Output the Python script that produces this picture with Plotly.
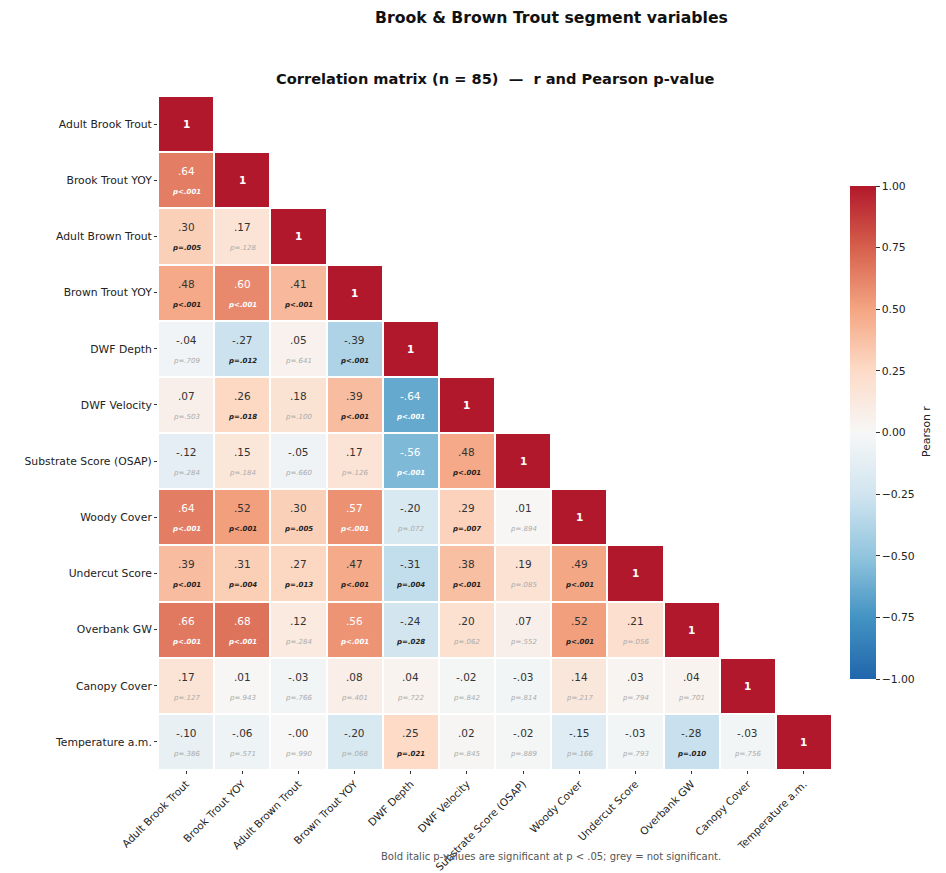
import plotly.graph_objects as go

labels = ["Adult Brook Trout", "Brook Trout YOY", "Adult Brown Trout", "Brown Trout YOY",
          "DWF Depth", "DWF Velocity", "Substrate Score (OSAP)", "Woody Cover",
          "Undercut Score", "Overbank GW", "Canopy Cover", "Temperature a.m."]

# lower-triangle correlations (row i, columns 0..i-1)
r_rows = [
    [],
    [0.64],
    [0.30, 0.17],
    [0.48, 0.60, 0.41],
    [-0.04, -0.27, 0.05, -0.39],
    [0.07, 0.26, 0.18, 0.39, -0.64],
    [-0.12, 0.15, -0.05, 0.17, -0.56, 0.48],
    [0.64, 0.52, 0.30, 0.57, -0.20, 0.29, 0.01],
    [0.39, 0.31, 0.27, 0.47, -0.31, 0.38, 0.19, 0.49],
    [0.66, 0.68, 0.12, 0.56, -0.24, 0.20, 0.07, 0.52, 0.21],
    [0.17, 0.01, -0.03, 0.08, 0.04, -0.02, -0.03, 0.14, 0.03, 0.04],
    [-0.10, -0.06, -0.001, -0.20, 0.25, 0.02, -0.02, -0.15, -0.03, -0.28, -0.03],
]

# Pearson p-values (0.0001 stands for p<.001)
p_rows = [
    [],
    [0.0001],
    [0.005, 0.128],
    [0.0001, 0.0001, 0.0001],
    [0.709, 0.012, 0.641, 0.0001],
    [0.503, 0.018, 0.100, 0.0001, 0.0001],
    [0.284, 0.184, 0.660, 0.126, 0.0001, 0.0001],
    [0.0001, 0.0001, 0.005, 0.0001, 0.072, 0.007, 0.894],
    [0.0001, 0.004, 0.013, 0.0001, 0.004, 0.0001, 0.085, 0.0001],
    [0.0001, 0.0001, 0.284, 0.0001, 0.028, 0.062, 0.552, 0.0001, 0.056],
    [0.127, 0.943, 0.766, 0.401, 0.722, 0.842, 0.814, 0.217, 0.794, 0.701],
    [0.386, 0.571, 0.990, 0.068, 0.021, 0.845, 0.889, 0.166, 0.793, 0.010, 0.756],
]

colorbar_ticks = [-1.0, -0.75, -0.5, -0.25, 0.0, 0.25, 0.5, 0.75, 1.0]

n = len(labels)
z = [[None] * n for _ in range(n)]
for i in range(n):
    for j, v in enumerate(r_rows[i]):
        z[i][j] = v
    z[i][i] = 1.0

rdbu = [
    [0.0, "rgb(33,102,172)"], [0.125, "rgb(67,147,195)"], [0.25, "rgb(146,197,222)"],
    [0.375, "rgb(209,229,240)"], [0.5, "rgb(247,247,247)"], [0.625, "rgb(253,219,199)"],
    [0.75, "rgb(244,165,130)"], [0.875, "rgb(214,96,77)"], [1.0, "rgb(178,24,43)"],
]

FONT = "DejaVu Sans"

fig = go.Figure(go.Heatmap(
    z=z, x=labels, y=labels, zmin=-1, zmax=1, colorscale=rdbu,
    xgap=2, ygap=2, hoverongaps=False,
    colorbar=dict(
        x=(850 - 158) / 674, xanchor="left", xpad=0, y=(770 - 432.5) / 674, yanchor="middle",
        len=493 / 674, lenmode="fraction", ypad=0,
        thickness=26, outlinewidth=0, tickvals=colorbar_ticks, tickformat=".2f",
        ticks="outside", ticklen=4, tickcolor="#333",
        tickfont=dict(family=FONT, size=10.8, color="#222"),
    ),
))

def fmt_r(v):
    s = f"{v:.2f}"
    return s.replace("0.", ".", 1)

def fmt_p(p):
    if p < 0.001:
        return "p<.001"
    return "p=" + f"{p:.3f}"[1:]

ann = []
for i in range(n):
    ann.append(dict(x=labels[i], y=labels[i], text="<b>1</b>", showarrow=False,
                    font=dict(family=FONT, size=10.5, color="white")))
    for j in range(i):
        r = r_rows[i][j]
        p = p_rows[i][j]
        dark = abs(r) > 0.54
        rc = "white" if dark else "#333"
        ann.append(dict(x=labels[j], y=labels[i], text=fmt_r(r), showarrow=False, yshift=9,
                        font=dict(family=FONT, size=10.5, color=rc)))
        if p < 0.05:
            txt = "<b><i>" + fmt_p(p) + "</i></b>"
            pc = "white" if dark else "#222"
        else:
            txt = "<i>" + fmt_p(p) + "</i>"
            pc = "#aaa"
        ann.append(dict(x=labels[j], y=labels[i], text=txt, showarrow=False, yshift=-12,
                        font=dict(family=FONT, size=7, color=pc)))

# window pixel -> paper coordinates (plot area spans 158..832 x, 96..770 y in the window)
def px_x(px):
    return (px - 158) / 674

def px_y(py):
    return (770 - py) / 674

ann.append(dict(xref="paper", yref="paper", x=px_x(551), y=px_y(18), yanchor="middle",
                text="<b>Brook & Brown Trout segment variables</b>",
                showarrow=False, font=dict(family=FONT, size=15.7, color="#111")))
ann.append(dict(xref="paper", yref="paper", x=px_x(495), y=px_y(79), yanchor="middle",
                text="<b>Correlation matrix (n = 85)  —  r and Pearson p-value</b>",
                showarrow=False, font=dict(family=FONT, size=14.6, color="#111")))
ann.append(dict(xref="paper", yref="paper", x=px_x(551), y=px_y(856), yanchor="middle",
                text="Bold italic p-values are significant at p < .05; grey = not significant.",
                showarrow=False, font=dict(family=FONT, size=10, color="#555")))
ann.append(dict(xref="paper", yref="paper", x=px_x(926), y=px_y(432), yanchor="middle",
                xanchor="center", text="Pearson r", textangle=-90,
                showarrow=False, font=dict(family=FONT, size=10.8, color="#222")))

fig.update_layout(
    width=946, height=873,
    margin=dict(l=150, r=122, t=88, b=111, autoexpand=False),
    paper_bgcolor="white", plot_bgcolor="white",
    annotations=ann,
    xaxis=dict(showgrid=False, zeroline=False, tickangle=-45, ticks="outside", ticklen=3,
               automargin=False, tickcolor="#333",
               tickfont=dict(family=FONT, size=10.4, color="#222")),
    yaxis=dict(showgrid=False, zeroline=False, autorange="reversed", ticks="outside", ticklen=3,
               automargin=False, tickcolor="#333",
               tickfont=dict(family=FONT, size=10.8, color="#222")),
)

fig.write_html("out.html")
